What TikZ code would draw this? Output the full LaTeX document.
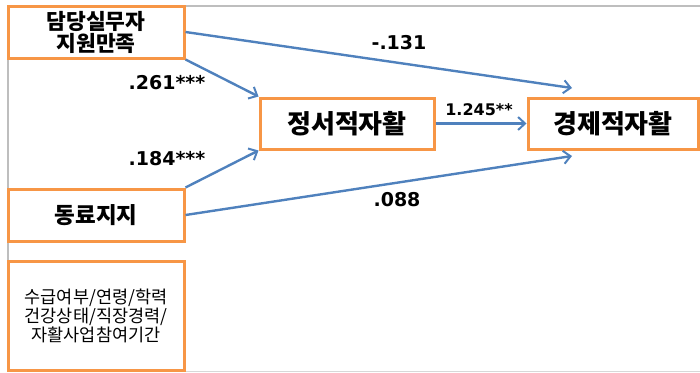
\documentclass[tikz,border=0pt]{standalone}
\usepackage{fontspec}
\setmainfont{DejaVu Sans}
\newfontfamily\krfont{Noto Sans CJK KR}
\newfontfamily\numfont{DejaVu Sans}
\usetikzlibrary{arrows.meta}
\definecolor{boxorange}{RGB}{247,150,70}
\definecolor{pathblue}{RGB}{79,129,189}
\definecolor{framegray}{RGB}{190,190,190}
\tikzset{
  varbox/.style={draw=boxorange, line width=3pt, fill=white, rectangle,
    inner sep=0pt, align=center, font=\krfont\bfseries\fontsize{22.5}{23}\selectfont},
  bigvar/.style={font=\krfont\bfseries\fontsize{26}{28}\selectfont},
  path arrow/.style={draw=pathblue, line width=2.4pt,
    -{Straight Barb[length=7pt,width=13pt,line width=2pt]}},
  coef/.style={font=\numfont\bfseries\fontsize{19}{22}\selectfont, inner sep=0pt},
}
\begin{document}
\begin{tikzpicture}[x=1pt,y=-1pt]
\useasboundingbox (0,0) rectangle (700,372);
% thin frame of the slide area
\draw[framegray, line width=1.2pt] (8,371) -- (8,6) -- (701,6);
\draw[framegray!60, line width=1pt] (8,371) -- (701,371);

% variables
\node[varbox, minimum width=176pt, minimum height=52pt,
      font=\krfont\bfseries\fontsize{21.5}{22}\selectfont] (sup) at (96,32) {담당실무자\\지원만족};
\node[varbox, minimum width=176pt, minimum height=52pt] (peer) at (96,215) {동료지지};
\node[varbox, bigvar, minimum width=174pt, minimum height=51pt] (emo) at (347,123.5) {정서적자활};
\node[varbox, bigvar, minimum width=170pt, minimum height=51pt] (eco) at (613,123.5) {경제적자활};
\node[varbox, minimum width=176pt, minimum height=109pt,
      font=\krfont\fontsize{17.5}{15.5}\selectfont] (ctrl) at (96,316)
      {수급여부/연령/학력\\건강상태/직장경력/\\자활사업참여기간};

% free ends of the direct paths
\coordinate (ecoTop) at (572,88);
\coordinate (ecoBot) at (572,156);

% paths
\draw[path arrow] (sup.east) -- (ecoTop);
\draw[path arrow] (sup.south east) -- (emo.north west);
\draw[path arrow] (peer.north east) -- (emo.south west);
\draw[path arrow] (peer.east) -- (ecoBot);
\draw[path arrow] (emo.east) -- (eco.west);

% coefficients
\node[coef] (c1) at (399,43) {-.131};
\node[coef] (c2) at (167,83) {.261***};
\node[coef] (c3) at (167,159) {.184***};
\node[coef, font=\numfont\bfseries\fontsize{16}{19}\selectfont] (c4) at (479,110) {1.245**};
\node[coef] (c5) at (397,200) {.088};
\end{tikzpicture}
\end{document}
